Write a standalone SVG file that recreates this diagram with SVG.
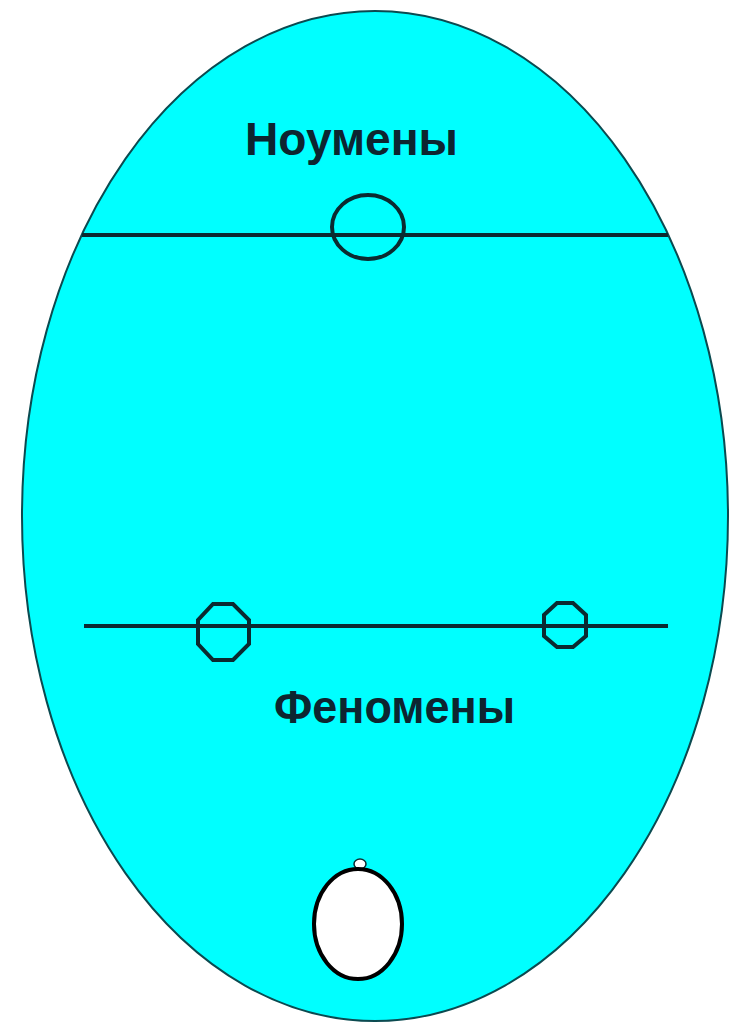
<svg xmlns="http://www.w3.org/2000/svg" width="729" height="1024" viewBox="0 0 729 1024">
<style>
.ln{stroke:#0b2a30;stroke-width:4;fill:none}
.ring{stroke:#0b2a30;stroke-width:4;fill:none}
.lbl{font-family:"Liberation Sans",Arial,sans-serif;font-weight:bold;font-size:46px;fill:#0d2530}
</style>
<rect width="729" height="1024" fill="#ffffff"/>
<g id="field">
<ellipse cx="375" cy="516" rx="353" ry="505" fill="#00ffff" stroke="#0b4a50" stroke-width="2"/>
</g>
<g id="connectors">
<line class="ln" x1="82" y1="235" x2="668" y2="235"/>
<line class="ln" x1="84" y1="626" x2="668" y2="626"/>
</g>
<g id="noumena">
<text class="lbl" x="245" y="155" textLength="213" lengthAdjust="spacingAndGlyphs">Ноумены</text>
</g>
<g id="node-top">
<ellipse class="ring" cx="368" cy="227" rx="36" ry="32"/>
</g>
<g id="node-left">
<polygon class="ring" points="213,604 233,604 249,620 249,644 233,660 213,660 198,644 198,620"/>
</g>
<g id="node-right">
<polygon class="ring" points="557,603 573,603 586,615 586,636 573,647 557,647 544,636 544,615"/>
</g>
<g id="phenomena">
<text class="lbl" x="274" y="723" textLength="241" lengthAdjust="spacingAndGlyphs">Феномены</text>
</g>
<g id="egg">
<ellipse cx="360" cy="864" rx="6" ry="5" fill="#ffffff" stroke="#0b2a30" stroke-width="1.5"/>
<ellipse cx="358" cy="924" rx="44" ry="55" fill="#ffffff" stroke="#000000" stroke-width="4"/>
</g>
</svg>
